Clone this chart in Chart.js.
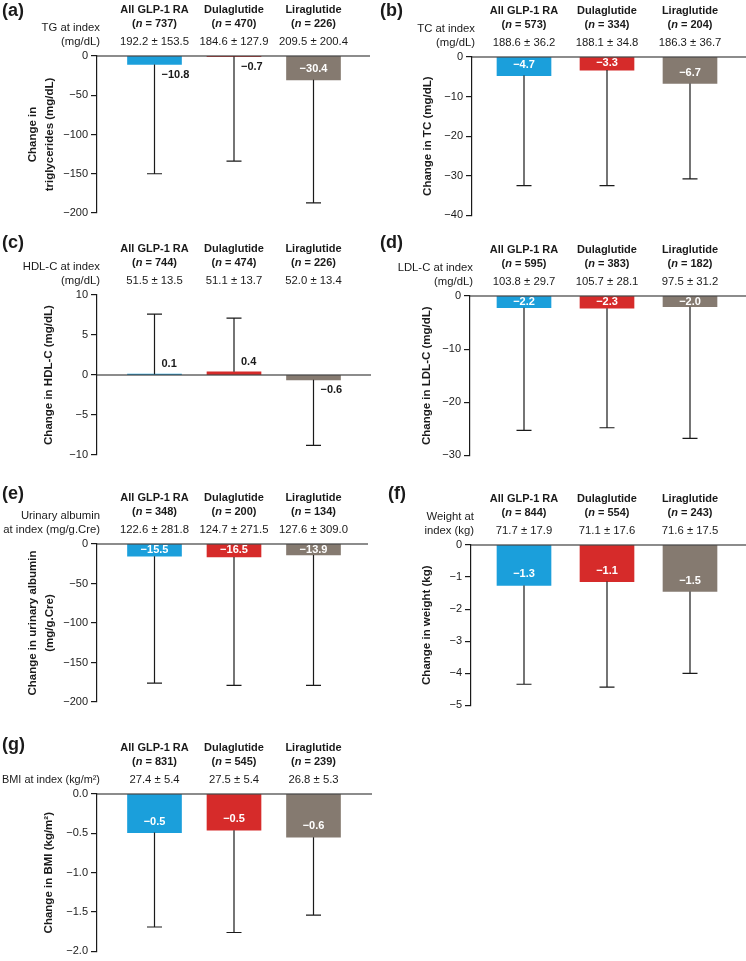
<!DOCTYPE html>
<html>
<head>
<meta charset="utf-8">
<script src="https://cdn.jsdelivr.net/npm/chart.js@4.4.0/dist/chart.umd.min.js"></script>
<style>
  body { margin: 0; background: #fff; }
  #page { position: relative; width: 746px; height: 961px; overflow: hidden; }
  #page canvas { position: absolute; }
</style>
</head>
<body>
<div id="page">
  <canvas id="chartA" width="373" height="225" style="left:0;top:0"></canvas>
  <canvas id="chartB" width="373" height="225" style="left:373px;top:0"></canvas>
  <canvas id="chartC" width="373" height="240" style="left:0;top:225px"></canvas>
  <canvas id="chartD" width="373" height="240" style="left:373px;top:225px"></canvas>
  <canvas id="chartE" width="373" height="240" style="left:0;top:475px"></canvas>
  <canvas id="chartF" width="373" height="240" style="left:373px;top:475px"></canvas>
  <canvas id="chartG" width="373" height="236" style="left:0;top:725px"></canvas>
</div>
<script>
var FONT = "'Liberation Sans', Arial, Helvetica, sans-serif";
var INK = '#1a1a1a';

var groups = ['All GLP-1 RA', 'Dulaglutide', 'Liraglutide'];
var barColors = ['#1b9fdb', '#d62b2a', '#857a70'];

// (a) triglycerides
var tgN = [737, 470, 226];
var tgIndex = ['192.2 ± 153.5', '184.6 ± 127.9', '209.5 ± 200.4'];
var tgLead = ['TG at index', '(mg/dL)'];
var tgTitle = ['Change in', 'triglycerides (mg/dL)'];
var tgChange = [-10.8, -0.7, -30.4];
var tgEnd = [-150, -134, -187];
var tgTicks = [0, -50, -100, -150, -200];

// (b) total cholesterol
var tcN = [573, 334, 204];
var tcIndex = ['188.6 ± 36.2', '188.1 ± 34.8', '186.3 ± 36.7'];
var tcLead = ['TC at index', '(mg/dL)'];
var tcTitle = 'Change in TC (mg/dL)';
var tcChange = [-4.7, -3.3, -6.7];
var tcEnd = [-32.5, -32.5, -30.8];
var tcTicks = [0, -10, -20, -30, -40];

// (c) HDL-C
var hdlN = [744, 474, 226];
var hdlIndex = ['51.5 ± 13.5', '51.1 ± 13.7', '52.0 ± 13.4'];
var hdlLead = ['HDL-C at index', '(mg/dL)'];
var hdlTitle = 'Change in HDL-C (mg/dL)';
var hdlChange = [0.1, 0.4, -0.6];
var hdlEnd = [7.6, 7.1, -8.8];
var hdlTicks = [10, 5, 0, -5, -10];

// (d) LDL-C
var ldlN = [595, 383, 182];
var ldlIndex = ['103.8 ± 29.7', '105.7 ± 28.1', '97.5 ± 31.2'];
var ldlLead = ['LDL-C at index', '(mg/dL)'];
var ldlTitle = 'Change in LDL-C (mg/dL)';
var ldlChange = [-2.2, -2.3, -2.0];
var ldlEnd = [-25.3, -24.8, -26.8];
var ldlTicks = [0, -10, -20, -30];

// (e) urinary albumin
var uaN = [348, 200, 134];
var uaIndex = ['122.6 ± 281.8', '124.7 ± 271.5', '127.6 ± 309.0'];
var uaLead = ['Urinary albumin', 'at index (mg/g.Cre)'];
var uaTitle = ['Change in urinary albumin', '(mg/g.Cre)'];
var uaChange = [-15.5, -16.5, -13.9];
var uaEnd = [-176, -179, -179];
var uaTicks = [0, -50, -100, -150, -200];

// (f) weight
var wtN = [844, 554, 243];
var wtIndex = ['71.7 ± 17.9', '71.1 ± 17.6', '71.6 ± 17.5'];
var wtLead = ['Weight at', 'index (kg)'];
var wtTitle = 'Change in weight (kg)';
var wtChange = [-1.26, -1.14, -1.45];
var wtText = ['−1.3', '−1.1', '−1.5'];
var wtEnd = [-4.34, -4.43, -4.0];
var wtTicks = [0, -1, -2, -3, -4, -5];

// (g) BMI
var bmiN = [831, 545, 239];
var bmiIndex = ['27.4 ± 5.4', '27.5 ± 5.4', '26.8 ± 5.3'];
var bmiLead = ['BMI at index (kg/m²)'];
var bmiTitle = 'Change in BMI (kg/m²)';
var bmiChange = [-0.49, -0.46, -0.55];
var bmiText = ['−0.5', '−0.5', '−0.6'];
var bmiEnd = [-1.69, -1.76, -1.54];
var bmiTicks = [0, -0.5, -1, -1.5, -2];

// column geometry (page px): first bar centre and bar spacing
var leftCol = { left: 0, c0: 154.5, sp: 79.5 };
var rightCol = { left: 373, c0: 524, sp: 83 };

function fmt(v, dec) {
  return (v < 0 ? '−' : '') + Math.abs(v).toFixed(dec);
}

function drawN(ctx, cx, y, n) {
  var parts = [['(', 'bold'], ['n', 'italic bold'], [' = ' + n + ')', 'bold']];
  var w = 0;
  parts.forEach(function (p) { ctx.font = p[1] + ' 11px ' + FONT; w += ctx.measureText(p[0]).width; });
  var x = cx - w / 2;
  ctx.textAlign = 'left';
  parts.forEach(function (p) {
    ctx.font = p[1] + ' 11px ' + FONT;
    ctx.fillText(p[0], x, y);
    x += ctx.measureText(p[0]).width;
  });
}

function makeChart(id, p) {
  var ticks = p.ticks;
  var yMax = Math.max.apply(null, ticks);
  var yMin = Math.min.apply(null, ticks);
  var step = Math.abs(ticks[0] - ticks[1]);
  var col = p.col;
  var xMin = -(col.c0 - (col.left + p.axisX)) / col.sp;
  var xMax = 2 + (col.left + p.right - (col.c0 + 2 * col.sp)) / col.sp;
  var padLeft = p.titleX - 11.8;

  var deco = {
    id: 'deco',
    afterDatasetsDraw: function (chart) {
      var ctx = chart.ctx, y = chart.scales.y, area = chart.chartArea;
      var bars = chart.getDatasetMeta(0).data;
      var y0 = y.getPixelForValue(0);
      ctx.save();
      ctx.strokeStyle = INK;
      ctx.lineWidth = 1.2;
      ctx.beginPath();
      ctx.moveTo(area.left, y0);
      ctx.lineTo(area.right, y0);
      ctx.stroke();

      bars.forEach(function (bar, i) {
        var yBar = y.getPixelForValue(p.change[i]);
        var yEnd = y.getPixelForValue(p.end[i]);
        ctx.beginPath();
        ctx.moveTo(bar.x, yBar);
        ctx.lineTo(bar.x, yEnd);
        ctx.moveTo(bar.x - 7.5, yEnd);
        ctx.lineTo(bar.x + 7.5, yEnd);
        ctx.stroke();

        var txt = p.text ? p.text[i] : fmt(p.change[i], 1);
        ctx.font = 'bold 11px ' + FONT;
        ctx.textBaseline = 'middle';
        if (p.outside[i]) {
          ctx.fillStyle = INK;
          ctx.textAlign = 'left';
          ctx.fillText(txt, bar.x + 7, p.change[i] < 0 ? yBar + 10 : yBar - 10);
        } else {
          ctx.fillStyle = '#fff';
          ctx.textAlign = 'center';
          ctx.fillText(txt, bar.x, Math.max(y0 + 6, yBar - 11));
        }
      });
      ctx.restore();
    },
    afterDraw: function (chart) {
      var ctx = chart.ctx, area = chart.chartArea;
      var bars = chart.getDatasetMeta(0).data;
      var top = area.top;
      ctx.save();
      ctx.fillStyle = INK;
      ctx.textBaseline = 'middle';
      bars.forEach(function (bar, i) {
        ctx.font = 'bold 11px ' + FONT;
        ctx.textAlign = 'center';
        ctx.fillText(groups[i], bar.x, top - 46);
        drawN(ctx, bar.x, top - 32, p.n[i]);
        ctx.font = '11.3px ' + FONT;
        ctx.textAlign = 'center';
        ctx.fillText(p.index[i], bar.x, top - 14);
      });
      ctx.font = '11.3px ' + FONT;
      ctx.textAlign = 'right';
      var last = p.lead.length - 1;
      p.lead.forEach(function (t, k) {
        // squeeze a long lead label so it stays inside the panel
        ctx.fillText(t, area.left + 3, top - 14 - 14.5 * (last - k), area.left + 1);
      });
      ctx.font = 'bold 18px ' + FONT;
      ctx.textAlign = 'left';
      ctx.fillText(p.letter, p.letterX, p.letterY);
      ctx.restore();
    }
  };

  return new Chart(document.getElementById(id), {
    type: 'bar',
    data: {
      datasets: [{
        data: p.change.map(function (v, i) { return { x: i, y: v }; }),
        backgroundColor: barColors,
        borderWidth: 0,
        barThickness: 54
      }]
    },
    options: {
      responsive: false,
      animation: false,
      layout: { padding: { top: p.padTop, bottom: p.padBottom, left: padLeft, right: 373 - p.right } },
      plugins: { legend: { display: false }, tooltip: { enabled: false } },
      scales: {
        x: { type: 'linear', display: false, offset: false, min: xMin, max: xMax },
        y: {
          min: yMin,
          max: yMax,
          border: { display: true, color: INK, width: 1.2 },
          grid: { drawOnChartArea: false, drawTicks: true, tickLength: 6, color: INK, lineWidth: 1.2 },
          ticks: {
            stepSize: step,
            padding: 3,
            color: INK,
            font: { family: FONT, size: 11 },
            callback: function (v) { return fmt(v, p.dec || 0); }
          },
          title: {
            display: true,
            text: p.title,
            color: INK,
            font: { family: FONT, size: 11.5, weight: 'bold', lineHeight: 1.4 },
            padding: { top: 4, bottom: 4 }
          },
          afterFit: function (s) { s.width = p.axisX - padLeft; }
        }
      }
    },
    plugins: [deco]
  });
}

makeChart('chartA', { col: leftCol, letter: '(a)', letterX: 2, letterY: 11, padTop: 56, padBottom: 12, axisX: 97, right: 370, titleX: 33,
  n: tgN, index: tgIndex, lead: tgLead, title: tgTitle, change: tgChange, end: tgEnd, ticks: tgTicks, outside: [true, true, false] });
makeChart('chartB', { col: rightCol, letter: '(b)', letterX: 7, letterY: 11, padTop: 57, padBottom: 8, axisX: 99, right: 373, titleX: 55,
  n: tcN, index: tcIndex, lead: tcLead, title: tcTitle, change: tcChange, end: tcEnd, ticks: tcTicks, outside: [false, false, false] });
makeChart('chartC', { col: leftCol, letter: '(c)', letterX: 2, letterY: 18, padTop: 70, padBottom: 10, axisX: 97, right: 371, titleX: 49,
  n: hdlN, index: hdlIndex, lead: hdlLead, title: hdlTitle, change: hdlChange, end: hdlEnd, ticks: hdlTicks, outside: [true, true, true] });
makeChart('chartD', { col: rightCol, letter: '(d)', letterX: 7, letterY: 18, padTop: 71, padBottom: 8, axisX: 97, right: 373, titleX: 54,
  n: ldlN, index: ldlIndex, lead: ldlLead, title: ldlTitle, change: ldlChange, end: ldlEnd, ticks: ldlTicks, outside: [false, false, false] });
makeChart('chartE', { col: leftCol, letter: '(e)', letterX: 2, letterY: 19, padTop: 69, padBottom: 13, axisX: 97, right: 368, titleX: 33,
  n: uaN, index: uaIndex, lead: uaLead, title: uaTitle, change: uaChange, end: uaEnd, ticks: uaTicks, outside: [false, false, false] });
makeChart('chartF', { col: rightCol, letter: '(f)', letterX: 15, letterY: 19, padTop: 70, padBottom: 8, axisX: 98, right: 373, titleX: 54,
  n: wtN, index: wtIndex, lead: wtLead, title: wtTitle, change: wtChange, text: wtText, end: wtEnd, ticks: wtTicks, outside: [false, false, false] });
makeChart('chartG', { col: leftCol, letter: '(g)', letterX: 2, letterY: 20, padTop: 69, padBottom: 6, axisX: 97, right: 372, titleX: 49, dec: 1,
  n: bmiN, index: bmiIndex, lead: bmiLead, title: bmiTitle, change: bmiChange, text: bmiText, end: bmiEnd, ticks: bmiTicks, outside: [false, false, false] });
</script>
</body>
</html>
